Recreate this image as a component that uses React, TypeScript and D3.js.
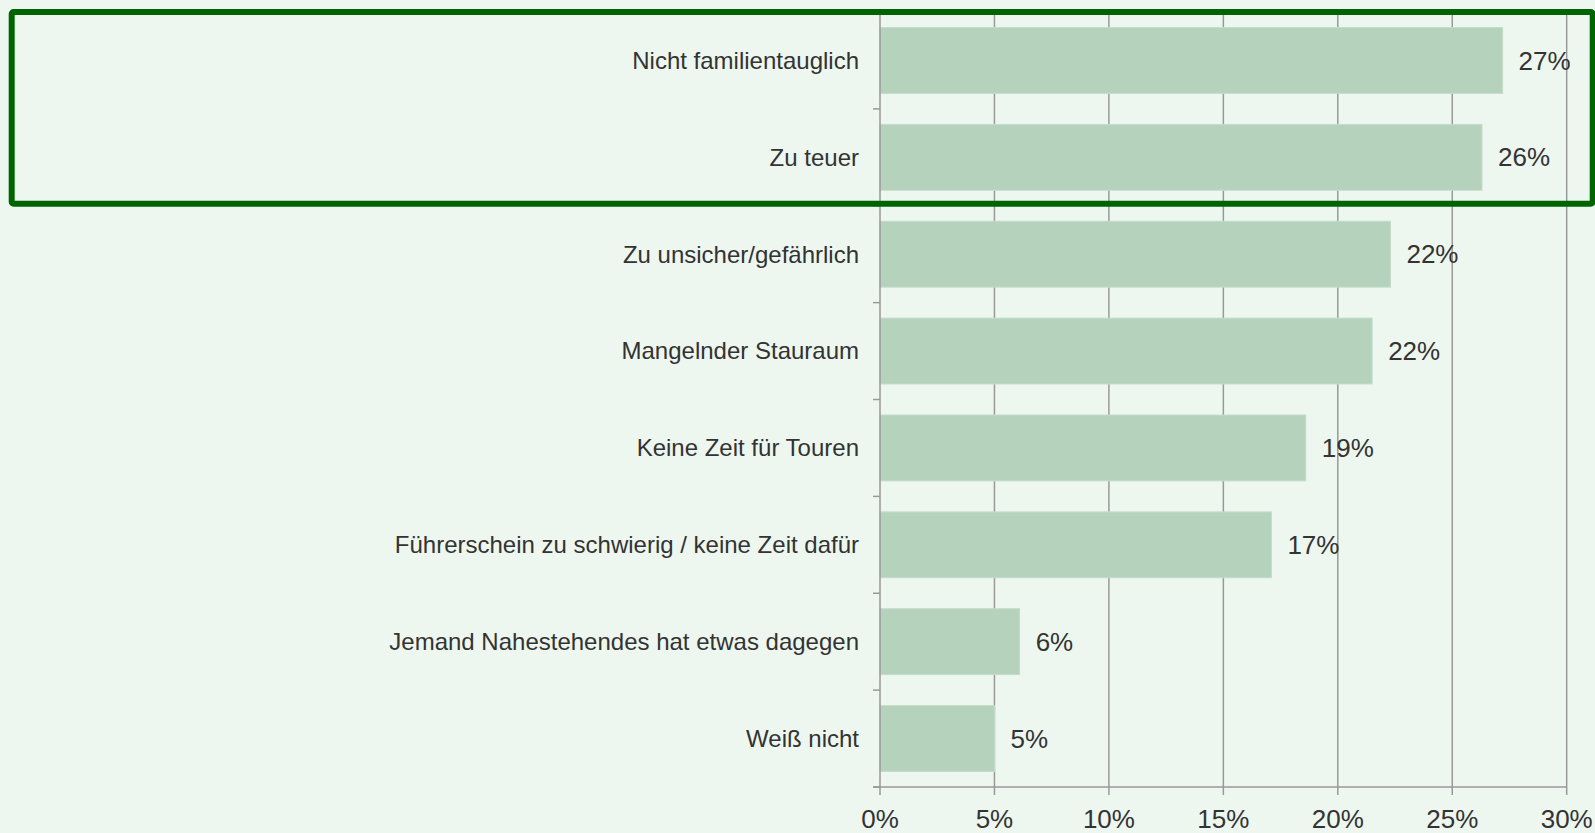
import React, { useRef, useEffect } from 'react';
import * as d3 from 'd3';

const categories = [
  'Nicht familientauglich',
  'Zu teuer',
  'Zu unsicher/gefährlich',
  'Mangelnder Stauraum',
  'Keine Zeit für Touren',
  'Führerschein zu schwierig / keine Zeit dafür',
  'Jemand Nahestehendes hat etwas dagegen',
  'Weiß nicht',
];
const values = [27.2, 26.3, 22.3, 21.5, 18.6, 17.1, 6.1, 5.0];
const valueLabels = ['27%', '26%', '22%', '22%', '19%', '17%', '6%', '5%'];
const xTicks = [0, 5, 10, 15, 20, 25, 30];
const highlighted = ['Nicht familientauglich', 'Zu teuer'];

const W = 1595;
const H = 833;
const FONT = '"Liberation Sans", Arial, sans-serif';

const App = () => {
  const svgRef = useRef<SVGSVGElement | null>(null);

  useEffect(() => {
    if (!svgRef.current) return;
    const svg = d3.select(svgRef.current);
    svg.selectAll('*').remove();

    const margin = { top: 12, right: 28, bottom: 46, left: 880 };
    const innerH = H - margin.top - margin.bottom;

    svg.append('rect').attr('width', W).attr('height', H).attr('fill', '#edf7f0');

    const x = d3.scaleLinear().domain([0, 30]).range([0, 686.7]);
    const y = d3.scaleBand().domain(categories).range([0, innerH]).paddingInner(0.32).paddingOuter(0.16);

    const g = svg.append('g').attr('transform', `translate(${margin.left},${margin.top})`);

    // vertical gridlines
    g.selectAll('.grid')
      .data(xTicks.slice(1))
      .enter()
      .append('line')
      .attr('x1', d => x(d))
      .attr('x2', d => x(d))
      .attr('y1', 0)
      .attr('y2', innerH)
      .attr('stroke', '#999999')
      .attr('stroke-width', 1.5);

    // bars
    g.selectAll('.bar')
      .data(categories)
      .enter()
      .append('rect')
      .attr('x', 0)
      .attr('y', d => y(d)!)
      .attr('width', (d, i) => x(values[i]))
      .attr('height', y.bandwidth())
      .attr('fill', '#b5d2bc')
      .attr('stroke', '#c4dccb')
      .attr('stroke-width', 1);

    // value labels
    g.selectAll('.val')
      .data(categories)
      .enter()
      .append('text')
      .attr('x', (d, i) => x(values[i]) + 16)
      .attr('y', d => y(d)! + y.bandwidth() / 2)
      .attr('dy', '0.35em')
      .attr('font-family', FONT)
      .attr('font-size', 26)
      .attr('fill', '#333333')
      .text((d, i) => valueLabels[i]);

    // category labels
    g.selectAll('.cat')
      .data(categories)
      .enter()
      .append('text')
      .attr('x', -21)
      .attr('y', d => y(d)! + y.bandwidth() / 2)
      .attr('dy', '0.35em')
      .attr('text-anchor', 'end')
      .attr('font-family', FONT)
      .attr('font-size', 24)
      .attr('fill', '#333333')
      .text(d => d);

    // y axis line + ticks at band boundaries
    const step = y.step();
    const boundaries = d3.range(categories.length + 1).map(i => i * step);
    g.append('line')
      .attr('x1', 0).attr('x2', 0).attr('y1', 0).attr('y2', innerH)
      .attr('stroke', '#999999').attr('stroke-width', 1.5);
    g.selectAll('.ytick')
      .data(boundaries.slice(1))
      .enter()
      .append('line')
      .attr('x1', -7).attr('x2', 0)
      .attr('y1', d => d).attr('y2', d => d)
      .attr('stroke', '#999999').attr('stroke-width', 1.5);

    // x axis
    g.append('line')
      .attr('x1', -7).attr('x2', x(30)).attr('y1', innerH).attr('y2', innerH)
      .attr('stroke', '#999999').attr('stroke-width', 1.5);
    g.selectAll('.xtick')
      .data(xTicks)
      .enter()
      .append('line')
      .attr('x1', d => x(d)).attr('x2', d => x(d))
      .attr('y1', innerH).attr('y2', innerH + 8)
      .attr('stroke', '#999999').attr('stroke-width', 1.5);
    g.selectAll('.xlabel')
      .data(xTicks)
      .enter()
      .append('text')
      .attr('x', d => x(d))
      .attr('y', innerH + 41)
      .attr('text-anchor', 'middle')
      .attr('font-family', FONT)
      .attr('font-size', 26)
      .attr('fill', '#333333')
      .text(d => `${d}%`);

    // highlight box around the top two categories
    const boxBottom = y(highlighted[highlighted.length - 1])! + y.bandwidth() + (step - y.bandwidth()) / 2 - 2;
    svg.append('rect')
      .attr('x', 11.7)
      .attr('y', margin.top)
      .attr('width', 1592.7 - 11.7)
      .attr('height', boxBottom)
      .attr('rx', 2)
      .attr('fill', 'none')
      .attr('stroke', '#006400')
      .attr('stroke-width', 6);
  }, []);

  return (
    <svg
      ref={svgRef}
      width={W}
      height={H}
      style={{ position: 'absolute', left: 0, top: 0, display: 'block' }}
    />
  );
};

export default App;
